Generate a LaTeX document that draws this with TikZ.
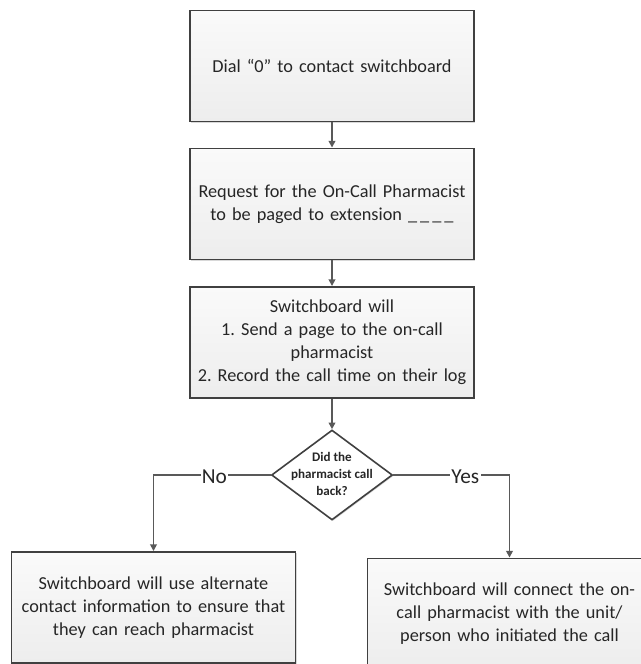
\documentclass[tikz,border=0pt]{standalone}
\usepackage{fontspec}
\setmainfont{Carlito}
\frenchspacing
\usetikzlibrary{shapes.geometric,arrows.meta,shadows}
\definecolor{boxline}{HTML}{404040}
\definecolor{boxtop}{HTML}{FAFAFA}
\definecolor{boxbot}{HTML}{EDEDED}
\definecolor{txt}{HTML}{262626}
\definecolor{arrowc}{HTML}{595959}
\begin{document}
\begin{tikzpicture}[x=0.75pt,y=-0.75pt,
  stepbox/.style={draw=boxline, line width=1.2pt, top color=boxtop, bottom color=boxbot,
    drop shadow={shadow xshift=0.8pt, shadow yshift=-0.8pt, fill=black!30},
    minimum width=211.5pt, minimum height=83.5pt, align=center, inner sep=2pt,
    text=txt, font=\fontsize{13.7}{17.3}\selectfont, text width=209pt},
  decbox/.style={diamond, draw=boxline, line width=1.2pt, fill=white,
    drop shadow={shadow xshift=0.8pt, shadow yshift=-0.8pt, fill=black!30},
    minimum width=90.75pt, minimum height=67.5pt, inner sep=0pt, aspect=1.344},
  dectext/.style={align=center, text=txt, font=\bfseries\fontsize{9.8}{12.6}\selectfont, inner sep=0pt},
  conn/.style={draw=arrowc, line width=1.2pt, -{Triangle[length=5pt,width=5pt]}},
  lbl/.style={fill=white, text=txt, inner sep=1pt, font=\fontsize{16}{17}\selectfont}]
\useasboundingbox (0,0) rectangle (640,664);
\node[stepbox] (b1) at (332,66) {Dial “0” to contact switchboard};
\node[stepbox] (b2) at (332,204) {Request for the On-Call Pharmacist\\to be paged to extension \_\,\_\,\_\,\_};
\node[stepbox] (b3) at (332,342.5) {Switchboard will\\1. Send a page to the on-call\\pharmacist\\2. Record the call time on their log};
\node[decbox] (d) at (332,475) {};
\node[dectext] (dt) at (332,474) {Did the\\pharmacist call\\back?};
\node[stepbox] (lb) at (153.5,607.5) {Switchboard will use alternate\\contact information to ensure that\\they can reach pharmacist};
\node[stepbox] (rb) at (509.5,614) {Switchboard will connect the on-\\call pharmacist with the unit/\\person who initiated the call};
\draw[conn] (b1.south) -- (b2.north);
\draw[conn] (b2.south) -- (b3.north);
\draw[conn] (b3.south) -- (d.north);
\draw[conn] (d.west) -| node[lbl, pos=0.24, yshift=-1.5pt] (no) {No} (lb.north);
\draw[conn] (d.east) -| node[lbl, pos=0.31, yshift=-1.5pt] (yes) {Yes} (rb.north);
\end{tikzpicture}
\end{document}
